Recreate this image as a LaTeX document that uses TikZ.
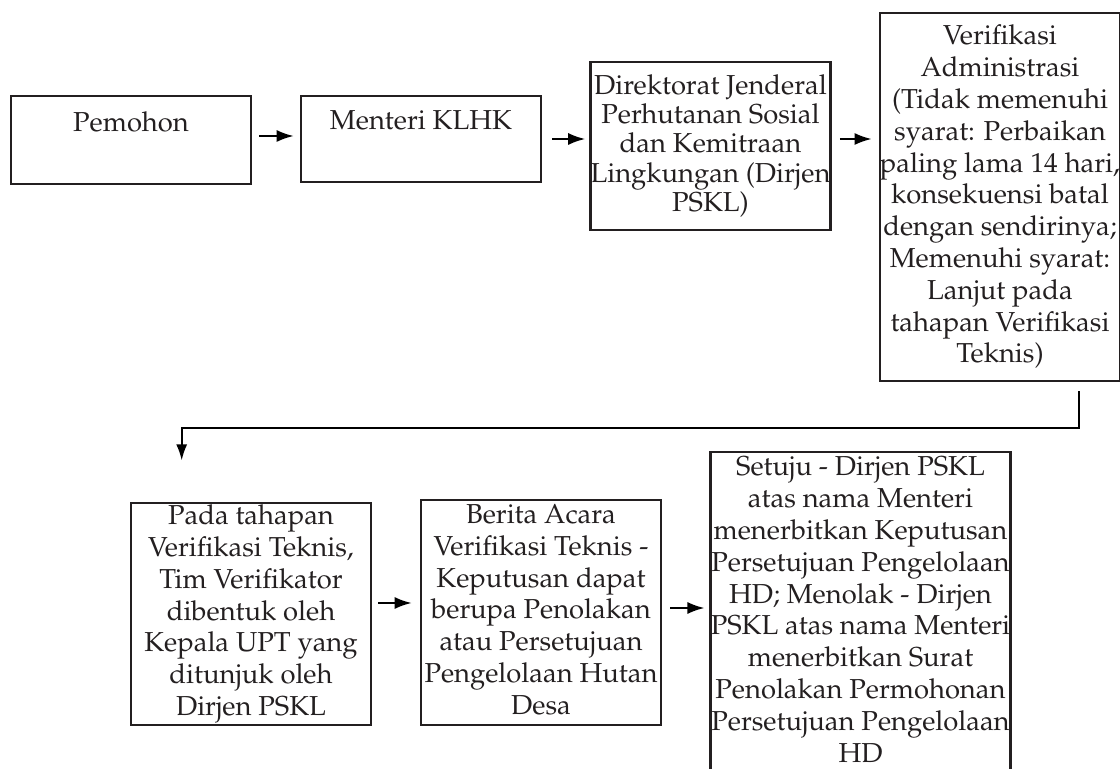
\documentclass[tikz,border=0pt]{standalone}
\usepackage[T1]{fontenc}
\usepackage{mathpazo}
\usetikzlibrary{calc, arrows.meta}
\definecolor{teks}{HTML}{231F20}
\tikzset{
  kotak/.style={draw=teks, line width=1.3pt, inner sep=0pt, align=center, text=teks,
    font=\fontsize{13.7}{15.9}\selectfont,
    execute at begin node={\rule{0pt}{13pt}}, execute at end node={\rule[-3pt]{0pt}{3pt}}},
  panah/.style={-{Latex[length=8.5pt,width=6pt]}, line width=1pt}
}
\begin{document}
\begin{tikzpicture}[x=0.5pt,y=-0.5pt]
		\useasboundingbox (0,0) rectangle (1120,769);
		\node[kotak, minimum width=120pt, minimum height=44pt](pemohon)at(131,140){Pemohon\\ \mbox{}};
		\node[kotak, minimum width=120pt, minimum height=43pt](menteri)at(421,139){Menteri KLHK\\ \mbox{}};
		\node[kotak, minimum width=119.5pt, minimum height=84pt, font=\fontsize{13.7}{14.6}\selectfont,
			execute at begin node={\rule{0pt}{18.7pt}}](dirjen)at(710.5,146){Direktorat Jenderal\\Perhutanan Sosial\\dan Kemitraan\\Lingkungan (Dirjen\\PSKL)};
		\node[kotak, minimum width=119pt, minimum height=184pt](verif)at(1000,197){Verifikasi\\Administrasi\\(Tidak memenuhi\\syarat: Perbaikan\\paling lama 14 hari,\\konsekuensi batal\\dengan sendirinya;\\Memenuhi syarat:\\Lanjut pada\\tahapan Verifikasi\\Teknis)};
		\node[kotak, minimum width=120pt, minimum height=111pt](tahap)at(251,614){Pada tahapan\\Verifikasi Teknis,\\Tim Verifikator\\dibentuk oleh\\Kepala UPT yang\\ditunjuk oleh\\Dirjen PSKL};
		\node[kotak, minimum width=120pt, minimum height=112.5pt](berita)at(541,612.5){Berita Acara\\Verifikasi Teknis -\\Keputusan dapat\\berupa Penolakan\\atau Persetujuan\\Pengelolaan Hutan\\Desa};
		\node[kotak, minimum width=149.5pt, minimum height=160.5pt](putusan)at(860.5,612.5){Setuju - Dirjen PSKL\\atas nama Menteri\\menerbitkan Keputusan\\Persetujuan Pengelolaan\\HD; Menolak - Dirjen\\PSKL atas nama Menteri\\menerbitkan Surat\\Penolakan Permohonan\\Persetujuan Pengelolaan\\HD};
		% baris atas
		\draw[panah, shorten <=3.5pt, shorten >=3pt]([yshift=2pt]pemohon.east)--([yshift=2pt]pemohon.east -| menteri.west);
		\draw[panah, shorten <=5pt, shorten >=2pt](menteri.east)--(menteri.east -| dirjen.west);
		\draw[panah, shorten <=4pt, shorten >=3.5pt]([yshift=3.5pt]dirjen.east)--([yshift=3.5pt]dirjen.east -| verif.west);
		% ke baris bawah
		\draw[line width=0.85pt, -{Latex[length=8pt,width=5.5pt]}]([xshift=39.5pt,yshift=-4.5pt]verif.south)--++(0,36.5)-|([xshift=-34.65pt,yshift=20.65pt]tahap.north);
		% baris bawah
		\draw[panah, shorten <=3pt, shorten >=4pt]([yshift=5.5pt]tahap.east)--([yshift=5.5pt]tahap.east -| berita.west);
		\draw[panah, shorten <=4pt, shorten >=2.5pt]([yshift=2.25pt]berita.east)--([yshift=2.25pt]berita.east -| putusan.west);
	\end{tikzpicture}
\end{document}
